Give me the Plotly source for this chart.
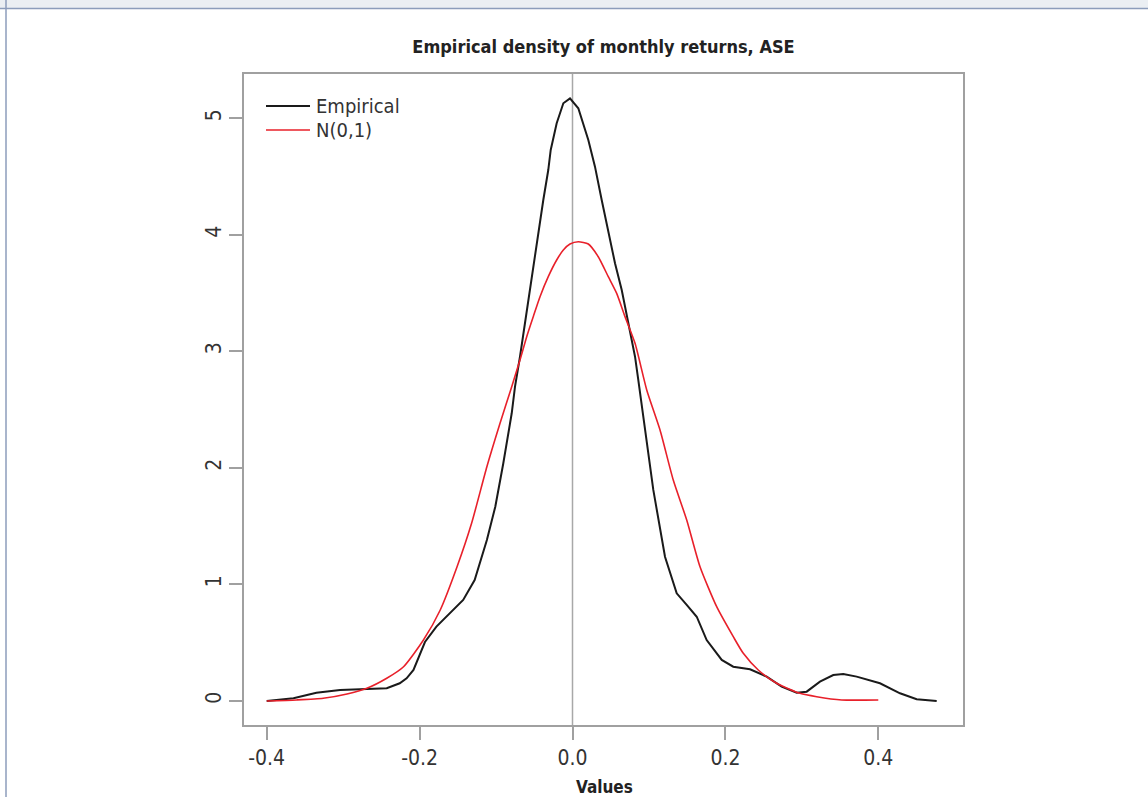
import plotly.graph_objects as go

# Empirical density (black)
emp_x = [-0.400, -0.365, -0.335, -0.304, -0.269, -0.243, -0.226, -0.217, -0.208, -0.193,
         -0.178, -0.160, -0.143, -0.128, -0.112, -0.101, -0.0905, -0.0795, -0.0752, -0.0687,
         -0.0621, -0.0556, -0.0513, -0.0447, -0.0382, -0.0317, -0.0285, -0.0207, -0.0120, -0.0033,
         0.0076, 0.0207, 0.0294, 0.0382, 0.0468, 0.0556, 0.0644, 0.0730, 0.0818, 0.0861,
         0.0948, 0.1057, 0.1210, 0.1363, 0.1494, 0.1625, 0.1755, 0.1952, 0.2103, 0.2322,
         0.2540, 0.2736, 0.2933, 0.3063, 0.3237, 0.3411, 0.3542, 0.3717, 0.4022, 0.4284,
         0.4502, 0.4764]
emp_y = [0.000, 0.023, 0.071, 0.094, 0.103, 0.109, 0.152, 0.195, 0.266, 0.506,
         0.638, 0.753, 0.867, 1.038, 1.382, 1.667, 2.040, 2.469, 2.697, 2.954,
         3.244, 3.527, 3.756, 4.042, 4.299, 4.556, 4.728, 4.957, 5.129, 5.170,
         5.086, 4.814, 4.585, 4.299, 4.042, 3.756, 3.527, 3.241, 2.954, 2.754,
         2.325, 1.811, 1.238, 0.924, 0.824, 0.723, 0.523, 0.352, 0.294, 0.272,
         0.209, 0.123, 0.071, 0.080, 0.166, 0.223, 0.232, 0.209, 0.152, 0.066,
         0.015, 0.000]

# Normal reference density (red)
norm_x = [-0.400, -0.361, -0.326, -0.295, -0.269, -0.243, -0.221, -0.195, -0.173, -0.151,
          -0.132, -0.112, -0.0948, -0.0795, -0.0687, -0.0599, -0.0513, -0.0425, -0.0317, -0.0207,
          -0.0120, -0.0033, 0.0076, 0.0207, 0.0337, 0.0468, 0.0578, 0.0687, 0.0818, 0.0971,
          0.1145, 0.1318, 0.1494, 0.1668, 0.1886, 0.2103, 0.2234, 0.2430, 0.2671, 0.2976,
          0.3194, 0.3521, 0.400]
norm_y = [0.000, 0.009, 0.023, 0.060, 0.109, 0.195, 0.294, 0.523, 0.781, 1.152,
          1.525, 2.010, 2.383, 2.697, 2.926, 3.126, 3.298, 3.469, 3.641, 3.784,
          3.870, 3.921, 3.941, 3.921, 3.812, 3.641, 3.498, 3.298, 3.069, 2.669,
          2.325, 1.896, 1.553, 1.152, 0.809, 0.552, 0.409, 0.266, 0.152, 0.066,
          0.037, 0.009, 0.009]

x_ticks = [-0.4, -0.2, 0.0, 0.2, 0.4]
x_tick_labels = ["-0.4", "-0.2", "0.0", "0.2", "0.4"]
y_ticks = [0, 1, 2, 3, 4, 5]
y_tick_labels = ["0", "1", "2", "3", "4", "5"]
series_names = ["Empirical", "N(0,1)"]
series_colors = ["#1a1a1a", "#e8202a"]

FONT = "DejaVu Sans Condensed, Liberation Sans, Arial, sans-serif"

fig = go.Figure()
fig.add_trace(go.Scatter(x=emp_x, y=emp_y, mode="lines", name=series_names[0],
                         line=dict(color=series_colors[0], width=2), showlegend=False))
fig.add_trace(go.Scatter(x=norm_x, y=norm_y, mode="lines", name=series_names[1],
                         line=dict(color=series_colors[1], width=1.6, shape="spline",
                                   smoothing=0.6), showlegend=False))

fig.add_vline(x=0, line=dict(color="#a8a8a8", width=1.5), layer="below")

# Plot area in pixels: left 244, right 963, top 74, bottom 725
L, R, T, B = 244, 963, 74, 725
W, H = R - L, B - T
def px(xp):
    return (xp - L) / W
def py(yp):
    return (B - yp) / H

shapes = []
# outer page decorations
shapes.append(dict(type="rect", xref="paper", yref="paper", x0=px(0), x1=px(1148),
                   y0=py(8.5), y1=py(0), fillcolor="#ebeff3", line=dict(width=0), layer="below"))
shapes.append(dict(type="line", xref="paper", yref="paper", x0=px(0), x1=px(1148),
                   y0=py(8.5), y1=py(8.5), line=dict(color="#8c9dbb", width=1.5)))
shapes.append(dict(type="line", xref="paper", yref="paper", x0=px(6), x1=px(6),
                   y0=py(0), y1=py(797), line=dict(color="#8c9dbb", width=1.5)))
# legend lines
leg_y = [106, 130]
for i in range(2):
    shapes.append(dict(type="line", xref="paper", yref="paper", x0=px(266), x1=px(310),
                       y0=py(leg_y[i]), y1=py(leg_y[i]),
                       line=dict(color=series_colors[i], width=2 if i == 0 else 1.6)))

annotations = []
for i in range(2):
    annotations.append(dict(xref="paper", yref="paper", x=px(314), y=py(leg_y[i]),
                            text=series_names[i], showarrow=False, xanchor="left",
                            yanchor="middle", font=dict(family=FONT, size=20, color="#333333")))
annotations.append(dict(xref="paper", yref="paper", x=px(604), y=py(787),
                        text="<b>Values</b>", showarrow=False, xanchor="center",
                        yanchor="middle", font=dict(family=FONT, size=17, color="#222222")))

for s in shapes:
    fig.add_shape(**s)

fig.update_layout(
    width=1148, height=797,
    margin=dict(l=L, r=1148 - R, t=T, b=797 - B, autoexpand=False),
    paper_bgcolor="white", plot_bgcolor="white",
    showlegend=False,
    annotations=annotations,
    title=dict(text="<b>Empirical density of monthly returns, ASE</b>", x=(L + R) / 2 / 1148,
               xanchor="center", y=1 - 47 / 797, yanchor="middle",
               font=dict(family=FONT, size=18, color="#222222")),
    xaxis=dict(range=[-0.4297, 0.5108], tickvals=x_ticks, ticktext=x_tick_labels,
               showgrid=False, zeroline=False, showline=True, mirror=True, automargin=False,
               linecolor="#a0a0a0", linewidth=1.5, ticks="outside", ticklen=13,
               tickcolor="#a0a0a0", tickwidth=1.5,
               tickfont=dict(family=FONT, size=21, color="#333333")),
    yaxis=dict(range=[-0.206, 5.380], tickvals=y_ticks, ticktext=y_tick_labels,
               showgrid=False, zeroline=False, showline=True, mirror=True, automargin=False,
               linecolor="#a0a0a0", linewidth=1.5, ticks="outside", ticklen=13,
               tickcolor="#a0a0a0", tickwidth=1.5, tickangle=-90,
               tickfont=dict(family=FONT, size=21, color="#333333")),
)

fig.write_html("out.html", config={"displayModeBar": False},
               post_script="document.body.style.margin='0';document.body.style.overflow='hidden';")
